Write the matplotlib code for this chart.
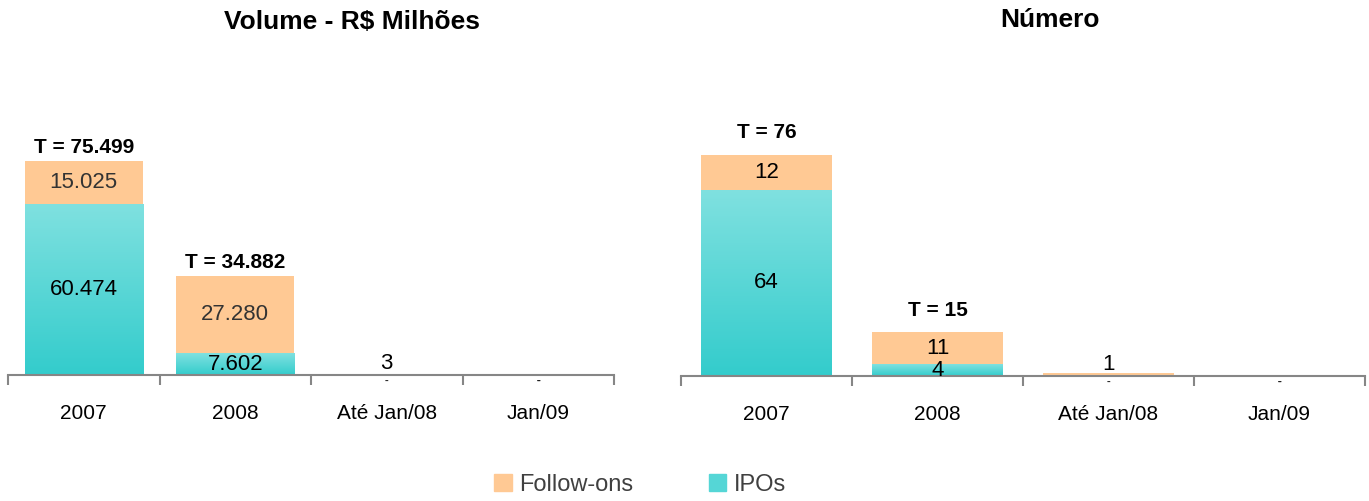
import matplotlib
matplotlib.use("Agg")
import matplotlib.pyplot as plt
from matplotlib.colors import LinearSegmentedColormap
from matplotlib.patches import Patch
import numpy as np

plt.rcParams['font.family'] = ['Liberation Sans', 'DejaVu Sans']

categories = ["2007", "2008", "Até Jan/08", "Jan/09"]

# Volume - R$ milhões
vol_ipos = [60474, 7602, 0, 0]
vol_follow = [15025, 27280, 3, 0]
vol_totals = {0: "T = 75.499", 1: "T = 34.882"}

# Número de ofertas
num_ipos = [64, 4, 0, 0]
num_follow = [12, 11, 1, 0]
num_totals = {0: "T = 76", 1: "T = 15"}

follow_color = "#FFC994"
ipo_cmap = LinearSegmentedColormap.from_list("ipo", ["#33CCCC", "#80E1E0"])
axis_color = "#868686"


def fmt(v):
    if v == 0:
        return "-"
    return f"{v:,}".replace(",", ".")


def label(ax, xi, bottom, v, color):
    if v == 0:
        # zero values are shown as a small dash just under the axis
        ax.annotate("-", (xi, bottom), xytext=(0, -0.5),
                    textcoords="offset points", ha="center", va="top",
                    fontsize=8, fontweight="bold", color="#222222", zorder=4)
    elif v < ax.get_ylim()[1] * 0.03:
        ax.annotate(fmt(v), (xi, bottom), xytext=(0, 1),
                    textcoords="offset points", ha="center", va="bottom",
                    fontsize=16, color="black", zorder=4)
    else:
        ax.text(xi, bottom + v / 2, fmt(v), ha="center", va="center",
                fontsize=16, color=color, zorder=4)


def panel(ax, ipos, follow, totals, ymax, width, tot_offset, follow_txt):
    x = np.arange(len(categories))
    bars_ipo = ax.bar(x, ipos, width, color="#33CCCC", zorder=2)
    ax.bar(x, follow, width, bottom=ipos, color=follow_color, zorder=2)
    grad = np.linspace(0, 1, 256).reshape(-1, 1)
    for b in bars_ipo:
        h = b.get_height()
        if h <= 0:
            continue
        x0 = b.get_x()
        im = ax.imshow(grad, cmap=ipo_cmap, origin="lower", aspect="auto",
                       extent=[x0, x0 + b.get_width(), 0, h], zorder=2.5)
        im.set_clip_path(b)
    ax.set_xlim(-0.5, len(categories) - 0.5)
    ax.set_ylim(0, ymax)

    for i in range(len(categories)):
        label(ax, x[i], 0, ipos[i], "black")
        label(ax, x[i], ipos[i], follow[i], follow_txt)
    for i, t in totals.items():
        ax.annotate(t, (x[i], ipos[i] + follow[i]), xytext=(0, tot_offset),
                    textcoords="offset points", ha="center", va="bottom",
                    fontsize=15, fontweight="bold")

    for s in ["top", "right", "left"]:
        ax.spines[s].set_visible(False)
    ax.spines["bottom"].set_color(axis_color)
    ax.spines["bottom"].set_linewidth(1.5)
    ax.set_yticks([])
    ax.set_xticks(x)
    ax.set_xticklabels(categories, fontsize=15)
    ax.tick_params(axis="x", which="major", length=0, pad=21)
    ax.set_xticks(np.arange(-0.5, len(categories)), minor=True)
    ax.tick_params(axis="x", which="minor", length=7, width=1.5,
                   color=axis_color, direction="out")


fig = plt.figure(figsize=(13.69, 5.01), dpi=100)
ax1 = fig.add_axes([8 / 1369, 126 / 501, 606 / 1369, 315 / 501])
ax2 = fig.add_axes([681 / 1369, 125 / 501, 684 / 1369, 316 / 501])

panel(ax1, vol_ipos, vol_follow, vol_totals, 111100, 0.78, 3, "#333333")
panel(ax2, num_ipos, num_follow, num_totals, 108.6, 0.766, 9, "black")

fig.text(352 / 1369, 1 - 22 / 501, "Volume - R$ Milhões", ha="center",
         va="center", fontsize=19, fontweight="bold")
fig.text(1050 / 1369, 1 - 20 / 501, "Número", ha="center", va="center",
         fontsize=19, fontweight="bold")

handles = [Patch(color=follow_color), Patch(color="#55D6D6")]
leg = fig.legend(handles, ["Follow-ons", "IPOs"], loc="center",
                 bbox_to_anchor=(640 / 1369, 1 - 485 / 501), ncol=2,
                 frameon=False, fontsize=17, handlelength=0.75,
                 handleheight=0.75, handletextpad=0.3, columnspacing=3.2)
for t in leg.get_texts():
    t.set_color("#404040")

fig.savefig("out.png", dpi=100)
